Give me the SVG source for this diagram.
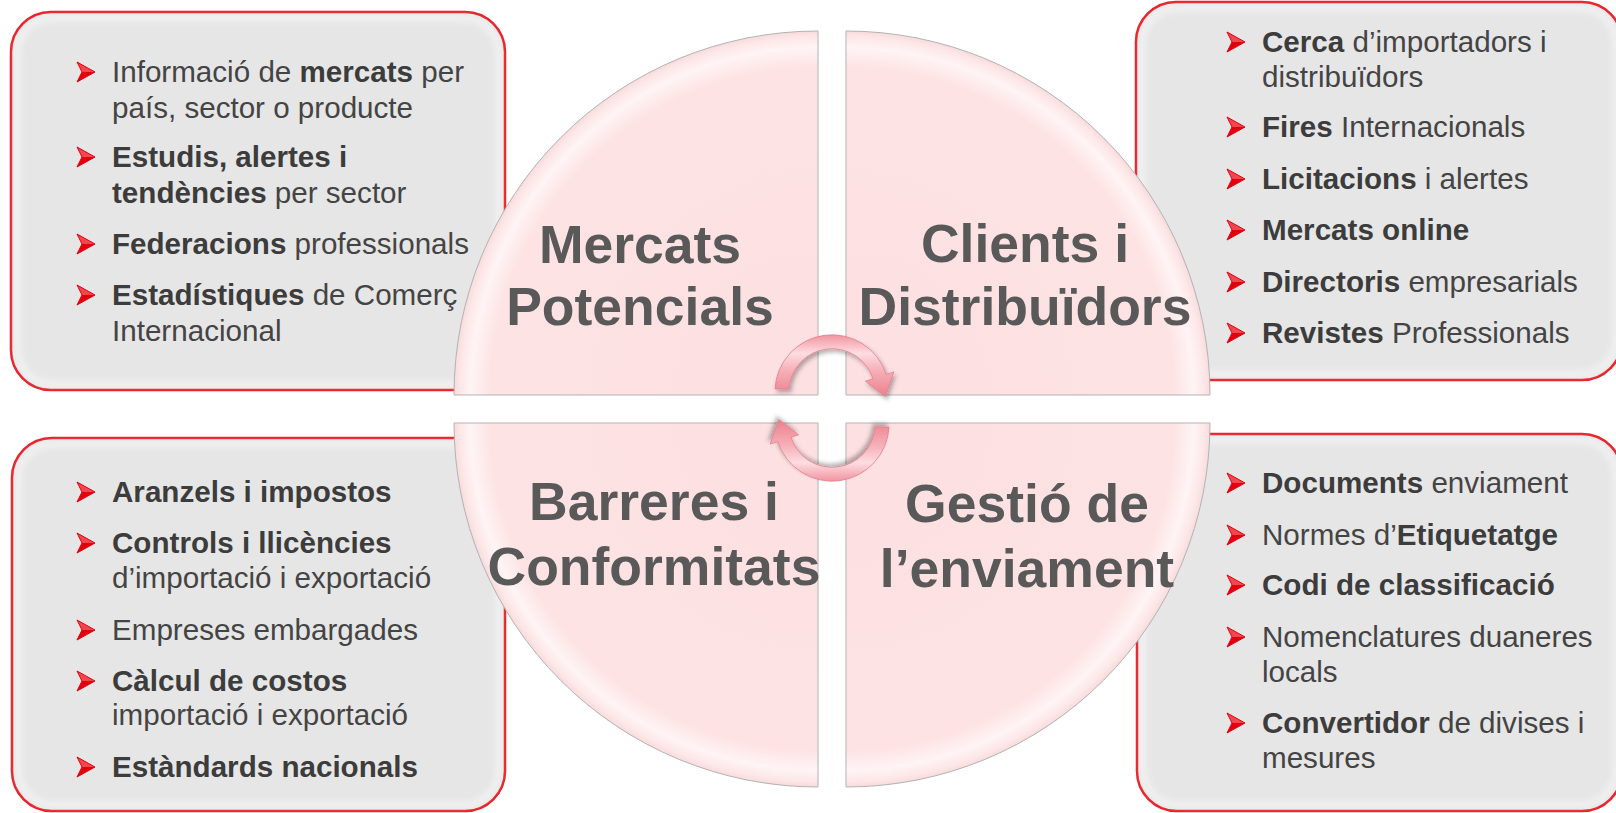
<svg xmlns="http://www.w3.org/2000/svg" xmlns:xlink="http://www.w3.org/1999/xlink" width="1616" height="813" viewBox="0 0 1616 813">
<style>
.box{fill:#e6e6e6;stroke:#e8121c;stroke-width:2.5}
.boxin{fill:none;stroke:#ffffff;stroke-opacity:.45;stroke-width:7;filter:url(#soft)}
.q{stroke:#b3b3b3;stroke-width:1}
.t{font-family:"Liberation Sans",Arial,Helvetica,sans-serif;font-size:29.6px;fill:#444444}
.b{font-weight:bold;fill:#3c3c3c}
.h{font-family:"Liberation Sans",Arial,Helvetica,sans-serif;font-size:53.5px;font-weight:bold;fill:#595959;text-anchor:middle}
.arr{fill:url(#ag);stroke:#df7f8b;stroke-width:.8;filter:url(#shadow)}
</style>
<defs>
<filter id="soft" x="-5%" y="-5%" width="110%" height="110%"><feGaussianBlur stdDeviation="3"/></filter>
<filter id="shadow" x="-20%" y="-20%" width="150%" height="150%"><feDropShadow dx="2" dy="3" stdDeviation="2" flood-color="#000" flood-opacity="0.3"/></filter>
<radialGradient id="qg" cx="1" cy="1" r="1">
<stop offset="0" stop-color="#fde0e1"/>
<stop offset="0.9" stop-color="#fde3e4"/>
<stop offset="0.955" stop-color="#fff4f4"/>
<stop offset="0.985" stop-color="#fde6e7"/>
<stop offset="1" stop-color="#f7dbdc"/>
</radialGradient>
<radialGradient id="qgTL" href="#qg" cx="1" cy="1" r="1"/>
<radialGradient id="qgTR" href="#qg" cx="0" cy="1" r="1"/>
<radialGradient id="qgBL" href="#qg" cx="1" cy="0" r="1"/>
<radialGradient id="qgBR" href="#qg" cx="0" cy="0" r="1"/>
<linearGradient id="ag" x1="0" y1="0" x2="0" y2="1">
<stop offset="0" stop-color="#f3959f"/>
<stop offset="0.3" stop-color="#fcdde1"/>
<stop offset="0.55" stop-color="#f7b3bb"/>
<stop offset="1" stop-color="#ec7f8c"/>
</linearGradient>
<g id="bul">
<path d="M0,0 L18,10 L5,10 Z" fill="#f2474e"/>
<path d="M5,10 L18,10 L0,20 Z" fill="#e0000e"/>
<path d="M0,0 L18,10 L0,20 L5,10 Z" fill="none" stroke="#e3000f" stroke-width="1"/>
</g>
</defs>
<rect width="1616" height="813" fill="#ffffff"/>

<g id="box-mercats">
<rect class="box" x="11" y="12" width="494" height="378" rx="40"/>
<rect class="boxin" x="17" y="18" width="482" height="366" rx="35"/>
<use href="#bul" x="77" y="62"/>
<use href="#bul" x="77" y="147"/>
<use href="#bul" x="77" y="234"/>
<use href="#bul" x="77" y="285"/>
<text class="t" x="112" y="82">Informació de <tspan class="b">mercats</tspan> per</text>
<text class="t" x="112" y="118">país, sector o producte</text>
<text class="t" x="112" y="167"><tspan class="b">Estudis, alertes i</tspan></text>
<text class="t" x="112" y="203"><tspan class="b">tendències</tspan> per sector</text>
<text class="t" x="112" y="254"><tspan class="b">Federacions</tspan> professionals</text>
<text class="t" x="112" y="305"><tspan class="b">Estadístiques</tspan> de Comerç</text>
<text class="t" x="112" y="341">Internacional</text>
</g>

<g id="box-clients">
<rect class="box" x="1136" y="2" width="486" height="378" rx="40"/>
<rect class="boxin" x="1142" y="8" width="474" height="366" rx="35"/>
<use href="#bul" x="1227" y="32"/>
<use href="#bul" x="1227" y="117"/>
<use href="#bul" x="1227" y="169"/>
<use href="#bul" x="1227" y="220"/>
<use href="#bul" x="1227" y="272"/>
<use href="#bul" x="1227" y="323"/>
<text class="t" x="1262" y="52"><tspan class="b">Cerca</tspan> d’importadors i</text>
<text class="t" x="1262" y="87">distribuïdors</text>
<text class="t" x="1262" y="137"><tspan class="b">Fires</tspan> Internacionals</text>
<text class="t" x="1262" y="189"><tspan class="b">Licitacions</tspan> i alertes</text>
<text class="t" x="1262" y="240"><tspan class="b">Mercats online</tspan></text>
<text class="t" x="1262" y="292"><tspan class="b">Directoris</tspan> empresarials</text>
<text class="t" x="1262" y="343"><tspan class="b">Revistes</tspan> Professionals</text>
</g>

<g id="box-barreres">
<rect class="box" x="12" y="438" width="493" height="373" rx="40"/>
<rect class="boxin" x="18" y="444" width="481" height="361" rx="35"/>
<use href="#bul" x="77" y="482"/>
<use href="#bul" x="77" y="533"/>
<use href="#bul" x="77" y="620"/>
<use href="#bul" x="77" y="671"/>
<use href="#bul" x="77" y="757"/>
<text class="t" x="112" y="502"><tspan class="b">Aranzels i impostos</tspan></text>
<text class="t" x="112" y="553"><tspan class="b">Controls i llicències</tspan></text>
<text class="t" x="112" y="588">d’importació i exportació</text>
<text class="t" x="112" y="640">Empreses embargades</text>
<text class="t" x="112" y="691"><tspan class="b">Càlcul de costos</tspan></text>
<text class="t" x="112" y="725">importació i exportació</text>
<text class="t" x="112" y="777"><tspan class="b">Estàndards nacionals</tspan></text>
</g>

<g id="box-enviament">
<rect class="box" x="1137" y="434" width="485" height="377" rx="40"/>
<rect class="boxin" x="1143" y="440" width="473" height="365" rx="35"/>
<use href="#bul" x="1227" y="473"/>
<use href="#bul" x="1227" y="525"/>
<use href="#bul" x="1227" y="575"/>
<use href="#bul" x="1227" y="627"/>
<use href="#bul" x="1227" y="713"/>
<text class="t" x="1262" y="493"><tspan class="b">Documents</tspan> enviament</text>
<text class="t" x="1262" y="545">Normes d’<tspan class="b">Etiquetatge</tspan></text>
<text class="t" x="1262" y="595"><tspan class="b">Codi de classificació</tspan></text>
<text class="t" x="1262" y="647">Nomenclatures duaneres</text>
<text class="t" x="1262" y="682">locals</text>
<text class="t" x="1262" y="733"><tspan class="b">Convertidor</tspan> de divises i</text>
<text class="t" x="1262" y="768">mesures</text>
</g>

<g id="q-mercats">
<path class="q" fill="url(#qgTL)" d="M818,395 L818,31 A364,364 0 0 0 454,395 Z"/>
<text class="h" x="640" y="263">Mercats</text>
<text class="h" x="640" y="325">Potencials</text>
</g>
<g id="q-clients">
<path class="q" fill="url(#qgTR)" d="M846,395 L846,31 A364,364 0 0 1 1210,395 Z"/>
<text class="h" x="1025" y="262">Clients i</text>
<text class="h" x="1025" y="325">Distribuïdors</text>
</g>
<g id="q-barreres">
<path class="q" fill="url(#qgBL)" d="M818,423 L454,423 A364,364 0 0 0 818,787 Z"/>
<text class="h" x="654" y="520">Barreres i</text>
<text class="h" x="654" y="585">Conformitats</text>
</g>
<g id="q-enviament">
<path class="q" fill="url(#qgBR)" d="M846,423 L1210,423 A364,364 0 0 1 846,787 Z"/>
<text class="h" x="1027" y="522">Gestió de</text>
<text class="h" x="1027" y="587">l’enviament</text>
</g>

<g id="connectors">
<path class="arr" transform="translate(832,392)" d="M-57,-3 A57,57 0 0 1 54.2,-17.6 L61.8,-20.1 L53.3,4.5 L33.3,-10.8 L40.9,-13.3 A43,43 0 0 0 -43,-3 Z"/>
<path class="arr" transform="translate(832,424) rotate(180)" d="M-57,-3 A57,57 0 0 1 54.2,-17.6 L61.8,-20.1 L53.3,4.5 L33.3,-10.8 L40.9,-13.3 A43,43 0 0 0 -43,-3 Z"/>
</g>
</svg>
